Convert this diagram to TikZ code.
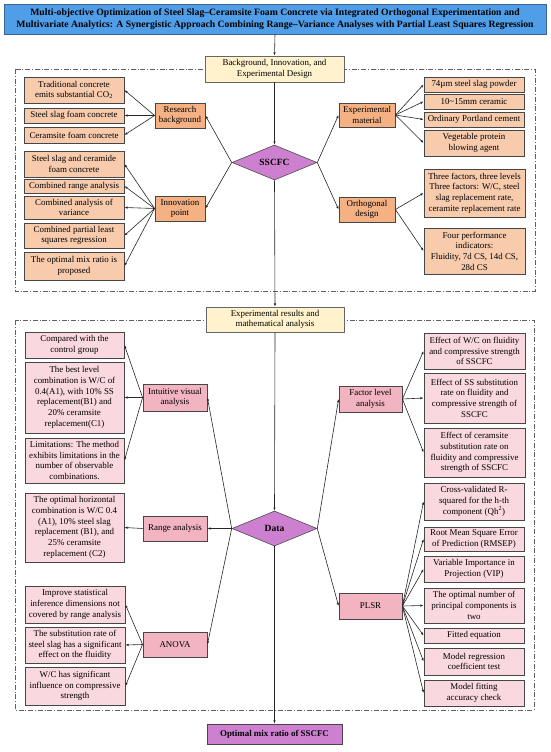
\documentclass[tikz,border=0pt]{standalone}
\usepackage{fontspec}
\setmainfont{Liberation Serif}
\usetikzlibrary{shapes.geometric,arrows.meta}
\definecolor{titleblue}{RGB}{80,158,232}
\definecolor{titleedge}{RGB}{60,100,150}
\definecolor{ylw}{RGB}{255,242,204}
\definecolor{orgL}{RGB}{248,203,173}
\definecolor{orgD}{RGB}{244,177,131}
\definecolor{pnkL}{RGB}{250,216,223}
\definecolor{pnkD}{RGB}{242,180,192}
\definecolor{purp}{RGB}{206,128,208}
\definecolor{edgec}{RGB}{70,70,70}
\newcommand{\bx}[7]{%
 \pgfmathsetmacro{\bcx}{(#3+#5)/2}%
 \pgfmathsetmacro{\bcy}{(#4+#6)/2}%
 \pgfmathsetmacro{\bw}{#5-#3}%
 \pgfmathsetmacro{\bh}{#6-#4}%
 \node[#1, minimum width=\bw pt, minimum height=\bh pt] (#2) at (\bcx,\bcy) {#7};}
\begin{document}
\begin{tikzpicture}[x=1pt,y=-1pt,
  base/.style={draw=edgec, line width=0.8pt, align=center, inner xsep=1pt, inner ysep=0pt,
    font=\fontsize{8.9}{10.7}\selectfont},
  ttl/.style={base, fill=titleblue, draw=titleedge, font=\fontsize{9.7}{11.7}\selectfont\bfseries},
  ybox/.style={base, fill=ylw, draw=gray!80!black},
  obL/.style={base, fill=orgL},
  obD/.style={base, fill=orgD},
  pbL/.style={base, fill=pnkL},
  pbD/.style={base, fill=pnkD},
  pur/.style={base, fill=purp},
  dia/.style={diamond, draw=gray!60!black, line width=0.6pt, fill=purp, inner sep=0pt, aspect=2.4,
    minimum width=85pt, minimum height=35pt, font=\fontsize{9.5}{11}\selectfont\bfseries},
  arr/.style={draw=black!85, line width=0.6pt, -{Latex[length=3.2pt,width=2.4pt]}},
  frame/.style={draw=gray!75!black, line width=0.8pt, dash pattern=on 5pt off 1.8pt on 1pt off 1.8pt}
]
\useasboundingbox (0,0) rectangle (550,752);
% frames
\draw[frame] (15,69) rectangle (535,291);
\draw[frame] (15,320) rectangle (534,710);

% title
\bx{ttl}{title}{4}{4}{546}{34}{Multi-objective Optimization of Steel Slag--Ceramsite Foam Concrete via Integrated Orthogonal Experimentation and\\Multivariate Analytics: A Synergistic Approach Combining Range--Variance Analyses with Partial Least Squares Regression}

% upper section
\bx{ybox}{bg}{205}{56}{344}{82}{Background, Innovation, and\\Experimental Design}
\node[dia] (sscfc) at (274.5,162.5) {SSCFC};

\bx{obL}{trad}{24}{77}{124}{103}{Traditional concrete\\emits substantial CO\textsubscript{2}}
\bx{obL}{sfc}{24}{108}{124}{123}{Steel slag foam concrete}
\bx{obL}{cfc}{24}{127}{124}{143}{Ceramsite foam concrete}
\bx{obD}{rb}{155}{103}{205}{128}{Research\\background}

\bx{obL}{scf}{24}{151}{124}{177}{Steel slag and ceramide\\foam concrete}
\bx{obL}{cra}{24}{179}{124}{193}{Combined range analysis}
\bx{obL}{cav}{24}{196}{124}{219}{Combined analysis of\\variance}
\bx{obL}{cpl}{24}{223}{124}{248}{Combined partial least\\squares regression}
\bx{obL}{omr}{24}{252}{124}{280}{The optimal mix ratio is\\proposed}
\bx{obD}{ip}{155}{196}{205}{221}{Innovation\\point}

\bx{obL}{ssp}{424}{77}{524}{92}{74µm steel slag powder}
\bx{obL}{cer}{424}{94}{524}{109}{10\textasciitilde15mm ceramic}
\bx{obL}{opc}{424}{112}{524}{127}{Ordinary Portland cement}
\bx{obL}{vpb}{424}{130}{524}{156}{Vegetable protein\\blowing agent}
\bx{obD}{em}{339}{103}{395}{127}{Experimental\\material}

\bx{obL}{tf}{424}{169}{525}{217}{Three factors, three levels\\Three factors: W/C, steel\\slag replacement rate,\\ceramite replacement rate}
\bx{obL}{fp}{424}{228}{525}{274}{Four performance\\indicators:\\Fluidity, 7d CS, 14d CS,\\28d CS}
\bx{obD}{od}{339}{197}{395}{222}{Orthogonal\\design}

% lower section
\bx{ybox}{res}{206}{307}{344}{332}{Experimental results and\\mathematical analysis}
\node[dia] (data) at (274.5,528.5) {Data};

\bx{pbL}{cmp}{25}{332}{124}{358}{Compared with the\\control group}
\bx{pbL}{blc}{25}{362}{124}{433}{The best level\\combination is W/C of\\0.4(A1), with 10\% SS\\replacement(B1) and\\20\% ceramsite\\replacement(C1)}
\bx{pbL}{lim}{25}{438}{124}{483}{Limitations: The method\\exhibits limitations in the\\number of observable\\combinations.}
\bx{pbD}{iva}{143}{384}{207}{411}{Intuitive visual\\analysis}

\bx{pbL}{ohc}{25}{493}{124}{562}{The optimal horizontal\\combination is W/C 0.4\\(A1), 10\% steel slag\\replacement (B1), and\\25\% ceramsite\\replacement (C2)}
\bx{pbD}{ra}{143}{516}{207}{541}{Range analysis}

\bx{pbL}{isi}{25}{586}{125}{623}{Improve statistical\\inference dimensions not\\covered by range analysis}
\bx{pbL}{srs}{25}{627}{125}{663}{The substitution rate of\\steel slag has a significant\\effect on the fluidity}
\bx{pbL}{wcs}{25}{667}{125}{705}{W/C has significant\\influence on compressive\\strength}
\bx{pbD}{anova}{143}{632}{207}{657}{ANOVA}

\bx{pbL}{ewc}{424}{333}{525}{369}{Effect of W/C on fluidity\\and compressive strength\\of SSCFC}
\bx{pbL}{ess}{424}{373}{525}{423}{Effect of SS substitution\\rate on fluidity and\\compressive strength of\\SSCFC}
\bx{pbL}{ecs}{424}{428}{525}{477}{Effect of ceramsite\\substitution rate on\\fluidity and compressive\\strength of SSCFC}
\bx{pbD}{fla}{339}{386}{402}{412}{Factor level\\analysis}

\bx{pbL}{cvr}{424}{483}{524}{520}{Cross-validated R-\\squared for the h-th\\component (Qh\textsuperscript{2})}
\bx{pbL}{rms}{424}{527}{524}{551}{Root Mean Square Error\\of Prediction (RMSEP)}
\bx{pbL}{vip}{424}{556}{524}{582}{Variable Importance in\\Projection (VIP)}
\bx{pbL}{onp}{424}{588}{524}{623}{The optimal number of\\principal components is\\two}
\bx{pbL}{feq}{424}{628}{524}{643}{Fitted equation}
\bx{pbL}{mrc}{424}{648}{524}{675}{Model regression\\coefficient test}
\bx{pbL}{mfa}{424}{680}{524}{706}{Model fitting\\accuracy check}
\bx{pbD}{plsr}{339}{593}{402}{619}{PLSR}

\bx{pur}{opt}{207}{724}{342}{744}{\bfseries Optimal mix ratio of SSCFC}

% connectors
\draw[arr] (title.south) -- (bg.north);
\draw[arr] (bg.south) -- (sscfc.north);
\draw[arr] (sscfc.south) -- (res.north);
\draw[arr] (res.south) -- (data.north);
\draw[arr] (data.south) -- (opt.north);

\draw[arr] (sscfc.west) -- (rb.east);
\draw[arr] (sscfc.west) -- (ip.east);
\draw[arr] (sscfc.east) -- (em.west);
\draw[arr] (sscfc.east) -- (od.west);
\foreach \t in {trad,sfc,cfc} \draw[arr] (rb.west) -- (\t.east);
\foreach \t in {scf,cra,cav,cpl,omr} \draw[arr] (ip.west) -- (\t.east);
\foreach \t in {ssp,cer,opc,vpb} \draw[arr] (em.east) -- (\t.west);
\foreach \t in {tf,fp} \draw[arr] (od.east) -- (\t.west);

\draw[arr] (data.west) -- (iva.east);
\draw[arr] (data.west) -- (ra.east);
\draw[arr] (data.west) -- (anova.east);
\draw[arr] (data.east) -- (fla.west);
\draw[arr] (data.east) -- (plsr.west);
\foreach \t in {cmp,blc,lim} \draw[arr] (iva.west) -- (\t.east);
\draw[arr] (ra.west) -- (ohc.east);
\foreach \t in {isi,srs,wcs} \draw[arr] (anova.west) -- (\t.east);
\foreach \t in {ewc,ess,ecs} \draw[arr] (fla.east) -- (\t.west);
\foreach \t in {cvr,rms,vip,onp,feq,mrc,mfa} \draw[arr] (plsr.east) -- (\t.west);
\end{tikzpicture}
\end{document}
